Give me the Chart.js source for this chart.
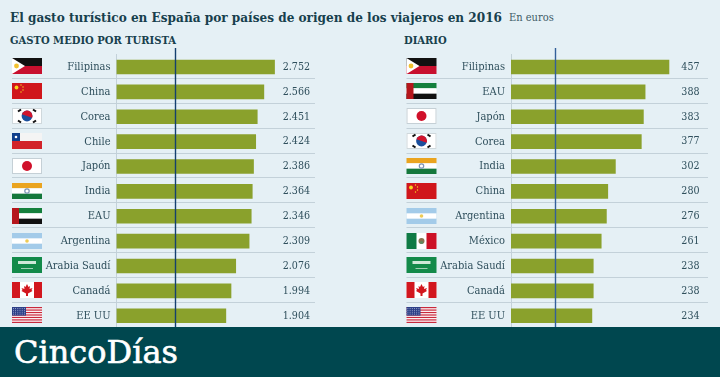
<!DOCTYPE html>
<html lang="es">
<head>
<meta charset="utf-8">
<title>Gasto turístico en España 2016</title>
<script src="https://cdn.jsdelivr.net/npm/chart.js@4"></script>
<style>
  html, body { margin: 0; padding: 0; }
  body { width: 720px; height: 377px; position: relative; overflow: hidden; background: #e5f0f5; font-family: "DejaVu Serif Condensed", "DejaVu Serif", serif; color: #17404d; }
  .t { position: absolute; white-space: nowrap; }
  #title { left: 10px; top: 9px; font-size: 13.45px; font-weight: 700; }
  #unit { left: 509px; top: 11px; font-size: 11px; color: #3d5a66; }
  #headLeft { left: 10px; top: 34px; font-size: 11.1px; font-weight: 700; }
  #headRight { left: 404px; top: 34px; font-size: 11.1px; font-weight: 700; }
  canvas { position: absolute; top: 40px; }
  #footer { position: absolute; left: 0; top: 327px; width: 720px; height: 50px; background: #00474f; }
  #brand { left: 14px; top: 6px; font-size: 32px; color: #fff; font-family: "DejaVu Serif", serif; -webkit-text-stroke: 0.6px #fff; }
</style>
</head>
<body>
<div class="t" id="title">El gasto turístico en España por países de origen de los viajeros en 2016</div>
<div class="t" id="unit">En euros</div>
<div class="t" id="headLeft">GASTO MEDIO POR TURISTA</div>
<div class="t" id="headRight">DIARIO</div>
<canvas id="chartLeft" width="360" height="289" style="left:0"></canvas>
<canvas id="chartRight" width="360" height="289" style="left:360px"></canvas>
<div id="footer"><div class="t" id="brand">CincoDías</div></div>
<script>
const leftCategories = ["Filipinas", "China", "Corea", "Chile", "Japón", "India", "EAU", "Argentina", "Arabia Saudí", "Canadá", "EE UU"];
const leftValues = [2752, 2566, 2451, 2424, 2386, 2364, 2346, 2309, 2076, 1994, 1904];
const leftMarker = 1031;

const rightCategories = ["Filipinas", "EAU", "Japón", "Corea", "India", "China", "Argentina", "México", "Arabia Saudí", "Canadá", "EE UU"];
const rightValues = [457, 388, 383, 377, 302, 280, 276, 261, 238, 238, 234];
const rightMarker = 130;

const fmt = v => String(v).replace(/\B(?=(\d{3})+$)/g, ".");

function rect(c, col, x, y, w, h) { c.fillStyle = col; c.fillRect(x, y, w, h); }
function disc(c, col, x, y, r) { c.fillStyle = col; c.beginPath(); c.arc(x, y, r, 0, Math.PI * 2); c.fill(); }

// Flags are small canvas drawings, 30x16, keyed by country
const flags = {
  "Filipinas": (c, x, y, w, h) => {
    rect(c, "#111", x, y, w, h / 2);
    rect(c, "#c8102e", x, y + h / 2, w, h / 2);
    c.fillStyle = "#fff"; c.beginPath(); c.moveTo(x, y); c.lineTo(x + 13, y + h / 2); c.lineTo(x, y + h); c.fill();
    disc(c, "#f2c230", x + 4.5, y + h / 2, 2.4);
  },
  "China": (c, x, y, w, h) => {
    rect(c, "#d0161b", x, y, w, h);
    disc(c, "#f7d51d", x + 4.5, y + 4.5, 1.9);
    [[9, 2], [11, 4], [11, 7], [9, 9]].forEach(p => disc(c, "#f7d51d", x + p[0], y + p[1], 0.7));
  },
  "Corea": (c, x, y, w, h) => {
    rect(c, "#fff", x, y, w, h);
    c.strokeStyle = "#cfd8dc"; c.strokeRect(x + .5, y + .5, w - 1, h - 1);
    const cx = x + w / 2, cy = y + h / 2;
    disc(c, "#1b4f9c", cx, cy, 5.4);
    c.fillStyle = "#d0142c"; c.beginPath(); c.arc(cx, cy, 5.4, Math.PI * 1.1, Math.PI * 0.1); c.fill();
    c.strokeStyle = "#111"; c.lineWidth = 2;
    [[-9, -4.5, -6, -6.5], [6, -6.5, 9, -4.5], [-9, 4.5, -6, 6.5], [6, 6.5, 9, 4.5]].forEach(s => {
      c.beginPath(); c.moveTo(cx + s[0], cy + s[1]); c.lineTo(cx + s[2], cy + s[3]); c.stroke();
    });
    c.lineWidth = 1;
  },
  "Chile": (c, x, y, w, h) => {
    rect(c, "#f4f4f4", x, y, w, h / 2);
    rect(c, "#d2232a", x, y + h / 2, w, h / 2);
    rect(c, "#0f3f8c", x, y, 8, h / 2);
    disc(c, "#fff", x + 4, y + 4, 1.3);
  },
  "Japón": (c, x, y, w, h) => {
    rect(c, "#fff", x, y, w, h);
    c.strokeStyle = "#c5d0d6"; c.strokeRect(x + .5, y + .5, w - 1, h - 1);
    disc(c, "#d0102a", x + w / 2, y + h / 2, 5);
  },
  "India": (c, x, y, w, h) => {
    rect(c, "#eaa41f", x, y, w, h / 3);
    rect(c, "#fff", x, y + h / 3, w, h / 3);
    rect(c, "#15783c", x, y + 2 * h / 3, w, h / 3);
    c.strokeStyle = "#7d94b5"; c.lineWidth = 1.2;
    c.beginPath(); c.arc(x + w / 2, y + h / 2, 2.2, 0, Math.PI * 2); c.stroke();
    c.lineWidth = 1;
  },
  "EAU": (c, x, y, w, h) => {
    rect(c, "#15803d", x, y, w, h / 3);
    rect(c, "#fff", x, y + h / 3, w, h / 3);
    rect(c, "#111", x, y + 2 * h / 3, w, h / 3);
    rect(c, "#b5161c", x, y, 7, h);
  },
  "Argentina": (c, x, y, w, h) => {
    rect(c, "#a3cbe9", x, y, w, h);
    rect(c, "#fff", x, y + h / 3, w, h / 3);
    disc(c, "#eecb55", x + w / 2, y + h / 2, 1.8);
  },
  "Arabia Saudí": (c, x, y, w, h) => {
    rect(c, "#138a4a", x, y, w, h);
    rect(c, "#cfe8d8", x + 6, y + 4, 18, 3);
    rect(c, "#9fd0b3", x + 9, y + 11, 12, 1);
  },
  "Canadá": (c, x, y, w, h) => {
    rect(c, "#fff", x, y, w, h);
    rect(c, "#d2161e", x, y, 8, h);
    rect(c, "#d2161e", x + w - 8, y, 8, h);
    const cx = x + w / 2, cy = y + h / 2;
    const leaf = [[0, -6], [1.5, -3], [3, -4], [2.5, -1], [5.5, -2], [4.5, 0], [5.5, 1], [1, 3.5], [1, 6], [-1, 6], [-1, 3.5], [-5.5, 1], [-4.5, 0], [-5.5, -2], [-2.5, -1], [-3, -4], [-1.5, -3]];
    c.fillStyle = "#d2161e"; c.beginPath();
    leaf.forEach((p, i) => i ? c.lineTo(cx + p[0], cy + p[1]) : c.moveTo(cx + p[0], cy + p[1]));
    c.fill();
  },
  "EE UU": (c, x, y, w, h) => {
    rect(c, "#fff", x, y, w, h);
    for (let i = 0; i < 7; i++) rect(c, "#c8283c", x, y + i * h * 2 / 13, w, h / 13);
    rect(c, "#2c3f87", x, y, 14, h * 7 / 13);
    c.fillStyle = "#c5cde6";
    for (let i = 0; i < 4; i++) for (let j = 0; j < 6; j++) c.fillRect(x + 1 + j * 2.2, y + 1 + i * 1.9, 0.8, 0.8);
  },
  "México": (c, x, y, w, h) => {
    rect(c, "#fff", x, y, w, h);
    rect(c, "#0f7a45", x, y, 10, h);
    rect(c, "#cc1126", x + 20, y, 10, h);
    disc(c, "#8a7350", x + w / 2, y + h / 2, 3);
    disc(c, "#5f8a60", x + w / 2, y + h / 2 + 1.5, 1.6);
  }
};

// Draws separators, flags, value labels and the marker line around the bars
function rowPlugin(opts) {
  return {
    id: "rows",
    beforeDatasetsDraw(chart) {
      const c = chart.ctx, ys = chart.scales.y, step = ys.getPixelForValue(1) - ys.getPixelForValue(0);
      c.save();
      c.strokeStyle = "#c3d1d9"; c.lineWidth = 1;
      opts.categories.forEach((_, i) => {
        if (i === opts.categories.length - 1) return;
        const py = Math.floor(ys.getPixelForValue(i) + step / 2) - .5;
        c.beginPath(); c.moveTo(opts.lineFrom, py); c.lineTo(opts.lineTo, py); c.stroke();
      });
      c.restore();
    },
    afterDraw(chart) {
      const c = chart.ctx, ys = chart.scales.y, xs = chart.scales.x;
      c.save();
      opts.categories.forEach((name, i) => {
        const py = ys.getPixelForValue(i);
        flags[name](c, opts.flagX, Math.round(py - 8.6), 30, 16);
      });
      c.font = "10.6px 'DejaVu Serif Condensed', 'DejaVu Serif', serif";
      c.fillStyle = "#2f4f5c"; c.textAlign = "right"; c.textBaseline = "middle";
      opts.values.forEach((v, i) => c.fillText(fmt(v), opts.valueX, ys.getPixelForValue(i)));
      const mx = Math.round(xs.getPixelForValue(opts.marker)) - .5;
      c.strokeStyle = opts.markerColor; c.lineWidth = 1.4;
      c.beginPath(); c.moveTo(mx, 8); c.lineTo(mx, chart.height); c.stroke();
      c.restore();
    }
  };
}

function makeChart(id, opts) {
  return new Chart(document.getElementById(id).getContext("2d"), {
    type: "bar",
    data: {
      labels: opts.categories,
      datasets: [{ data: opts.values, backgroundColor: "#8aa12c", categoryPercentage: 1, barThickness: 14 }]
    },
    options: {
      indexAxis: "y",
      responsive: false,
      animation: false,
      layout: { autoPadding: false, padding: { top: 14.6, left: 0, bottom: 0.8, right: opts.paddingRight } },
      plugins: { legend: { display: false }, tooltip: { enabled: false } },
      scales: {
        x: {
          display: false, min: 0, max: opts.max,
          afterFit(s) { s.height = 0; s.paddingLeft = s.paddingRight = 0; }
        },
        y: {
          afterFit(s) { s.width = opts.axisX; s.paddingTop = s.paddingBottom = 0; },
          grid: { display: false, drawTicks: false },
          border: { color: "#c3d1d9" },
          ticks: { color: "#2f4f5c", padding: 6, font: { size: 11, family: "'DejaVu Serif Condensed', 'DejaVu Serif', serif" }, autoSkip: false }
        }
      }
    },
    plugins: [rowPlugin(opts)]
  });
}

makeChart("chartLeft", {
  categories: leftCategories, values: leftValues, marker: leftMarker, max: 3500,
  axisX: 116.5, paddingRight: 42.5, flagX: 12, valueX: 310, lineFrom: 12, lineTo: 315, markerColor: "#14406f"
});
makeChart("chartRight", {
  categories: rightCategories, values: rightValues, marker: rightMarker, max: 600,
  axisX: 151, paddingRight: 1.6, flagX: 46.5, valueX: 339.5, lineFrom: 46.5, lineTo: 348, markerColor: "#33609a"
});
</script>
</body>
</html>
